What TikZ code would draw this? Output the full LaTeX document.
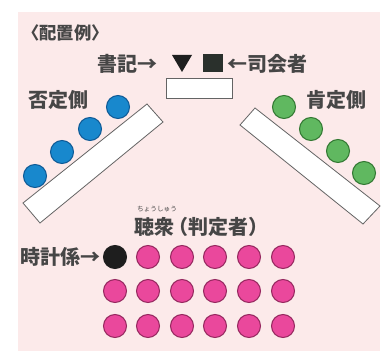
\documentclass[tikz,border=0pt]{standalone}
\usepackage{fontspec}
\newfontfamily\jp{Noto Sans CJK JP}
\definecolor{bgpink}{RGB}{252,234,234}
\definecolor{txt}{RGB}{70,70,70}
\definecolor{blueF}{RGB}{24,136,205}
\definecolor{blueD}{RGB}{14,90,150}
\definecolor{greenF}{RGB}{96,184,96}
\definecolor{greenD}{RGB}{50,120,50}
\definecolor{pinkF}{RGB}{234,72,156}
\definecolor{pinkD}{RGB}{150,40,95}
\definecolor{blk}{RGB}{30,30,30}
\definecolor{sq}{RGB}{42,48,44}
\definecolor{edge}{RGB}{100,100,100}
\tikzset{
  lbl/.style={inner sep=0pt, text=txt, font=\jp\bfseries\fontsize{15}{15}\selectfont},
  seat/.style={circle, minimum size=17.25pt, inner sep=0pt, line width=0.8pt},
  negseat/.style={seat, fill=blueF, draw=blueD},
  posseat/.style={seat, fill=greenF, draw=greenD},
  audseat/.style={seat, fill=pinkF, draw=pinkD},
  timerseat/.style={seat, fill=blk, draw=blk},
  bench/.style={fill=white, draw=edge, line width=0.6pt},
}
\begin{document}
\begin{tikzpicture}[x=0.75pt,y=-0.75pt]
\useasboundingbox (0,0) rectangle (392,356);
\fill[bgpink] (18,12) rectangle (380,351);
% title
\node[lbl, anchor=west, font=\jp\bfseries\fontsize{13}{13}\selectfont] (title) at (22,33) {〈配置例〉};
% secretary and chair
\node[lbl, anchor=west] (shoki) at (97,64) {書記→};
\node[lbl, anchor=west] (shikai) at (227,64) {←司会者};
\fill[blk] (172,55) -- (192,55) -- (182,72) -- cycle;
\node[fill=sq, minimum width=15pt, minimum height=13.5pt, inner sep=0pt] (chair) at (213,63) {};
\node[draw=edge, fill=white, line width=0.6pt, minimum width=49.5pt, minimum height=15pt, inner sep=0pt] (desk) at (199,88) {};
% sides
\node[lbl] (hitei) at (58,100) {否定側};
\node[lbl] (kotei) at (336,100) {肯定側};
\draw[bench] (147,104) -- (163,122) -- (40,223) -- (23,203) -- cycle;
\draw[bench] (255,108) -- (240,125) -- (363,224) -- (380,206) -- cycle;
\node[negseat] (n1) at (118,107) {};
\node[negseat] (n2) at (90,129) {};
\node[negseat] (n3) at (62,152) {};
\node[negseat] (n4) at (35,176) {};
\node[posseat] (p1) at (284,107) {};
\node[posseat] (p2) at (311,129) {};
\node[posseat] (p3) at (338,151) {};
\node[posseat] (p4) at (364,173) {};
% audience
\node[lbl] (chosh) at (198,227) {聴衆\kern-5pt（判定者）\kern-5pt};
\node[inner sep=0pt, text=txt, font=\jp\fontsize{5}{5}\selectfont] (ruby) at (157,209) {ちょうしゅう};
\node[lbl, anchor=west] (tokei) at (20,257) {時計係→};
\node[timerseat] (t) at (115,257) {};
\foreach \i/\x in {1/148,2/182,3/215,4/249,5/283}
  \node[audseat] (a1\i) at (\x,257) {};
\foreach \i/\x in {0/115,1/148,2/182,3/215,4/249,5/283}{
  \node[audseat] (a2\i) at (\x,291) {};
  \node[audseat] (a3\i) at (\x,326) {};
}
\end{tikzpicture}
\end{document}
